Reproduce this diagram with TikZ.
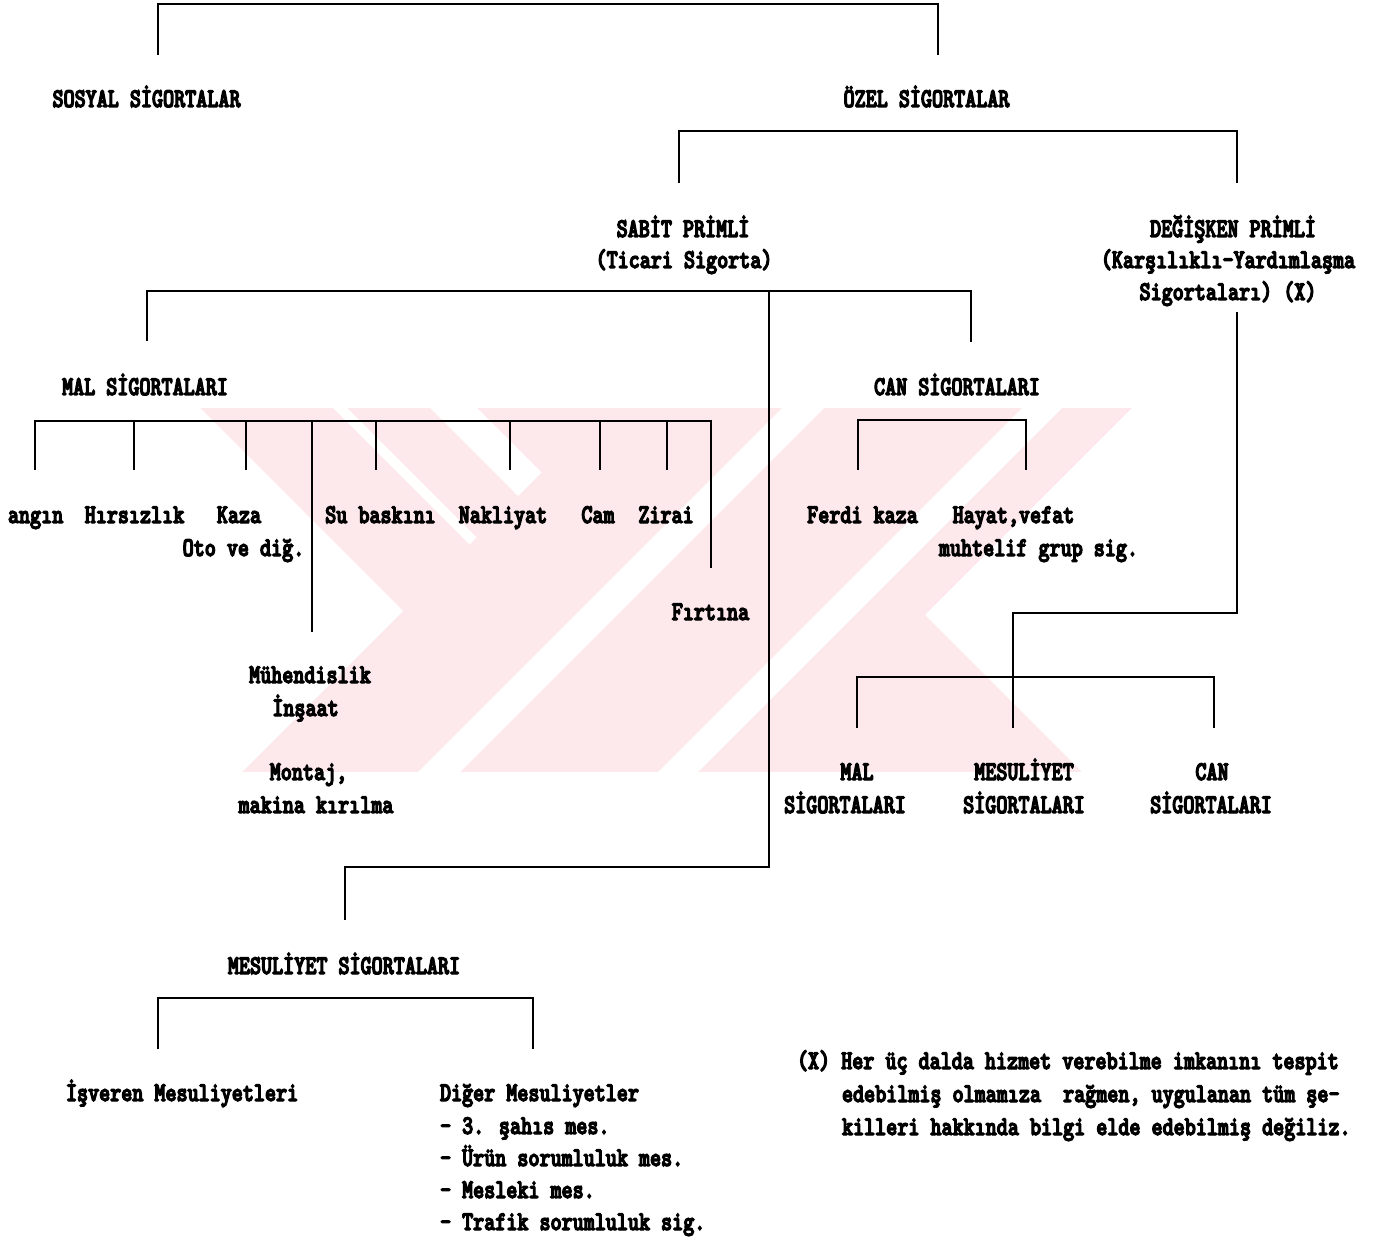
\documentclass[tikz,border=0pt]{standalone}
\usepackage{fontspec}
\newfontfamily\tw[FakeStretch=0.78,FakeBold=4.5]{lmmonolt10-bold.otf}
\definecolor{wmpink}{RGB}{253,232,236}
\begin{document}
\begin{tikzpicture}[x=1pt,y=-1pt,line width=2pt,
  font=\tw\fontsize{27}{33}\selectfont,
  lbl/.style={inner sep=0pt,anchor=base},
  lblw/.style={inner sep=0pt,anchor=base west},
  conn/.style={draw=black,line width=2.2pt}]
\useasboundingbox (0,0) rectangle (1376,1238);
\fill[white] (0,0) rectangle (1376,1238);
% watermark
\begin{scope}
\clip (0,408) rectangle (1135,772);
\fill[wmpink] (0,408) rectangle (1135,772);
\fill[white] (0,408) -- (200,408) -- (403,611) -- (242,772) -- (0,772) -- cycle;
\fill[white] (333,408) -- (347,408) -- (476.5,537.5) -- (469.5,544.5) -- cycle;
\fill[white] (430,408) -- (477,408) -- (541.5,472.5) -- (518,496) -- cycle;
\fill[white] (782,408) -- (824,408) -- (460,772) -- (418,772) -- cycle;
\fill[white] (1022,408) -- (1062,408) -- (698,772) -- (658,772) -- cycle;
\fill[white] (925,615) -- (1132,408) -- (1140,408) -- (1140,772) -- (1082,772) -- cycle;
\end{scope}
% level 1
\node[lbl] (sosyal) at (146.5,107) {SOSYAL SİGORTALAR};
\node[lbl] (ozel) at (926.5,107) {ÖZEL SİGORTALAR};
% level 2
\node[lbl] (sabit1) at (683,237) {SABİT PRİMLİ};
\node[lbl] (sabit2) at (684,268) {(Ticari Sigorta)};
\node[lbl] (deg1) at (1233,237) {DEĞİŞKEN PRİMLİ};
\node[lbl] (deg2) at (1228,268) {(Karşılıklı-Yardımlaşma};
\node[lbl] (deg3) at (1228,300) {Sigortaları) (X)};
% level 3
\node[lbl] (mal) at (145,395) {MAL SİGORTALARI};
\node[lbl] (can) at (957,395) {CAN SİGORTALARI};
% mal children
\node[lblw] (yangin) at (7,523) {angın};
\node[lbl] (hirs) at (134.5,523) {Hırsızlık};
\node[lbl] (kaza) at (239,523) {Kaza};
\node[lbl] (oto) at (243.5,556) {Oto ve diğ.};
\node[lbl] (su) at (380.5,523) {Su baskını};
\node[lbl] (nak) at (503,523) {Nakliyat};
\node[lbl] (cam) at (598,523) {Cam};
\node[lbl] (zir) at (666,523) {Zirai};
\node[lbl] (firt) at (710.5,620) {Fırtına};
\node[lbl] (muh) at (310,683) {Mühendislik};
\node[lbl] (insa) at (305.5,716) {İnşaat};
\node[lbl] (mont) at (308.5,780) {Montaj,};
\node[lbl] (mak) at (316,813) {makina kırılma};
% can children
\node[lbl] (ferdi) at (862.5,523) {Ferdi kaza};
\node[lbl] (hayat) at (1013.5,523) {Hayat,vefat};
\node[lbl] (muht) at (1038.5,556) {muhtelif grup sig.};
% degisken children
\node[lbl] (mal2a) at (857,780) {MAL};
\node[lbl] (mal2b) at (845,813) {SİGORTALARI};
\node[lbl] (mes2a) at (1024,780) {MESULİYET};
\node[lbl] (mes2b) at (1024,813) {SİGORTALARI};
\node[lbl] (can2a) at (1212,780) {CAN};
\node[lbl] (can2b) at (1211,813) {SİGORTALARI};
% mesuliyet
\node[lbl] (mes) at (344,974) {MESULİYET SİGORTALARI};
\node[lblw] (isv) at (65,1101) {İşveren Mesuliyetleri};
\node[lblw] (dig1) at (439,1101) {Diğer Mesuliyetler};
\node[lblw] (dig2) at (439,1134) {- 3. şahıs mes.};
\node[lblw] (dig3) at (439,1166) {- Ürün sorumluluk mes.};
\node[lblw] (dig4) at (439,1198) {- Mesleki mes.};
\node[lblw] (dig5) at (439,1230) {- Trafik sorumluluk sig.};
% footnote
\node[lblw] (fn1) at (796,1069) {(X) Her üç dalda hizmet verebilme imkanını tespit};
\node[lblw] (fn2) at (841,1102) {edebilmiş olmamıza\ \ rağmen, uygulanan tüm şe-};
\node[lblw] (fn3) at (841,1135) {killeri hakkında bilgi elde edebilmiş değiliz.};
% connectors
\coordinate (c-top) at (548,4);
\coordinate (c-sos) at (158,55);
\coordinate (c-oz) at (938,55);
\draw[conn] (c-sos) |- (c-top) -| (c-oz);
\coordinate (c-ozbar) at (958,131);
\coordinate (c-sab) at (679,183);
\coordinate (c-deg) at (1237,183);
\draw[conn] (c-sab) |- (c-ozbar) -| (c-deg);
\coordinate (c-sabbar) at (769,291);
\coordinate (c-mal) at (147,341);
\coordinate (c-can) at (971,342);
\draw[conn] (c-mal) |- (c-sabbar) -| (c-can);
\coordinate (c-mescorner) at (769,867);
\coordinate (c-mes) at (345,920);
\draw[conn] (c-sabbar) -- (c-mescorner) -| (c-mes);
% mal bracket
\coordinate (c-malbar) at (373,421);
\coordinate (c-yan) at (35,470);
\coordinate (c-firt) at (711,568);
\draw[conn] (c-yan) |- (c-malbar) -| (c-firt);
\foreach \xx/\nn in {134/hirs,246/kaza,376/su,510/nak,600/cam,667/zir}{
  \coordinate (tk-\nn) at (\xx,470);
  \draw[conn] (tk-\nn |- c-malbar) -- (tk-\nn);
}
\coordinate (tk-muh) at (312,632);
\draw[conn] (tk-muh |- c-malbar) -- (tk-muh);
% can bracket
\coordinate (c-canbar) at (942,420);
\coordinate (c-fer) at (858,470);
\coordinate (c-hay) at (1026,470);
\draw[conn] (c-fer) |- (c-canbar) -| (c-hay);
% degisken branch
\coordinate (c-degtop) at (1237,312);
\coordinate (c-degc) at (1237,613);
\coordinate (c-mes2) at (1013,728);
\draw[conn] (c-degtop) -- (c-degc) -| (c-mes2);
\coordinate (c-b2) at (1013,677);
\coordinate (c-mal2) at (857,728);
\coordinate (c-can2) at (1214,728);
\draw[conn] (c-mal2) |- (c-b2) -| (c-can2);
% mesuliyet bracket
\coordinate (c-mesbar) at (345,998);
\coordinate (c-isv) at (158,1049);
\coordinate (c-dig) at (533,1049);
\draw[conn] (c-isv) |- (c-mesbar) -| (c-dig);
\end{tikzpicture}
\end{document}
